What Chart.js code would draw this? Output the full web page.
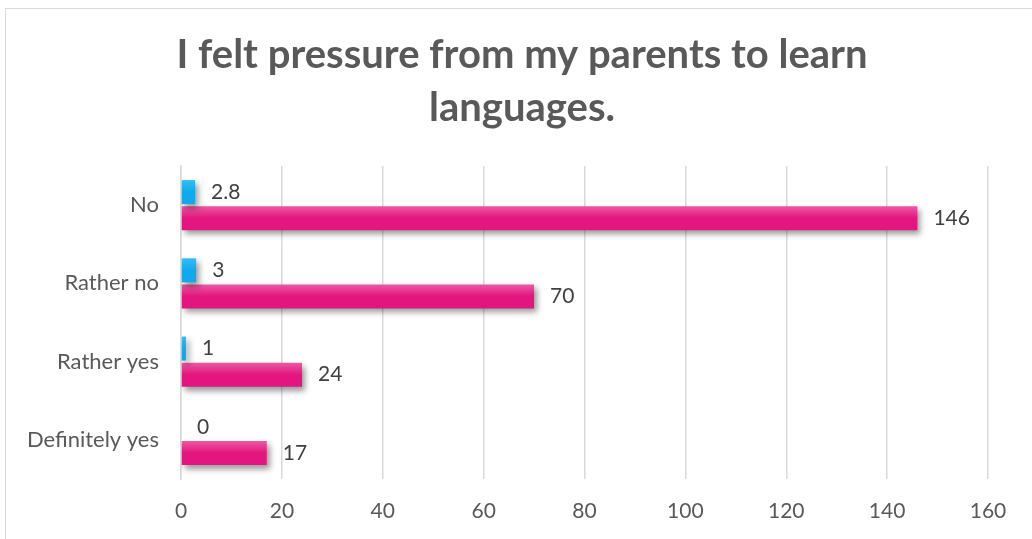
<!DOCTYPE html>
<html>
<head>
<meta charset="utf-8">
<script src="https://cdn.jsdelivr.net/npm/chart.js@4"></script>
<style>
  html, body { margin: 0; padding: 0; background: #fff; }
  #frame { position: absolute; left: 5px; top: 8px; width: 1100px; height: 600px; border: 1px solid #d9d9d9; }
  #wrap { position: absolute; left: 0; top: 0; width: 1032px; height: 539px; }
</style>
</head>
<body>
<div id="frame"></div>
<div id="wrap"><canvas id="chart" width="1032" height="539"></canvas></div>
<script>
// Data
const categories = ['No', 'Rather no', 'Rather yes', 'Definitely yes'];
const blueValues = [2.8, 3, 1, 0];
const pinkValues = [146, 70, 24, 17];
const xTicks = [0, 20, 40, 60, 80, 100, 120, 140, 160];

const FONT = 'Lato, "Open Sans", sans-serif';

// vertical gradient for each bar, once the bar has a position
function barGradient(top, bottom, fallback) {
    return function (c) {
        const el = c.element;
        if (!el || el.y == null || !el.height) return fallback;
        const g = c.chart.ctx.createLinearGradient(0, el.y - el.height / 2, 0, el.y + el.height / 2);
        g.addColorStop(0, top);
        g.addColorStop(0.5, bottom);
        g.addColorStop(1, bottom);
        return g;
    };
}

// soft shadow below the bars
const shadowPlugin = {
    id: 'barShadow',
    afterLayout(chart) {
        // let the long category labels run past the left padding without clipping
        chart.scales.y.left = 0;
    },
    beforeDatasetsDraw(chart) {
        const ctx = chart.ctx;
        ctx.save();
        ctx.shadowColor = 'rgba(0,0,0,0.4)';
        ctx.shadowBlur = 6;
        ctx.shadowOffsetX = 3;
        ctx.shadowOffsetY = 4;
    },
    afterDatasetsDraw(chart) {
        chart.ctx.restore();
    }
};

// value labels to the right of each bar
const valueLabels = {
    id: 'valueLabels',
    afterDraw(chart) {
        const ctx = chart.ctx;
        ctx.save();
        ctx.font = '21px ' + FONT;
        ctx.fillStyle = '#404040';
        ctx.textBaseline = 'middle';
        ctx.textAlign = 'left';
        chart.data.datasets.forEach((ds, i) => {
            chart.getDatasetMeta(i).data.forEach((el, j) => {
                ctx.fillText(String(ds.data[j]), el.x + 16, el.y);
            });
        });
        ctx.restore();
    }
};

const ctx = document.getElementById('chart').getContext('2d');
const chart = new Chart(ctx, {
    type: 'bar',
    data: {
        labels: categories,
        datasets: [{
            data: blueValues,
            backgroundColor: barGradient('#33bdf5', '#0fa9ec', '#1ab0f0'),
            borderWidth: 0,
            categoryPercentage: 0.667,
            barPercentage: 0.92
        }, {
            data: pinkValues,
            backgroundColor: barGradient('#ec5aa2', '#e3157f', '#e31b87'),
            borderWidth: 0,
            categoryPercentage: 0.667,
            barPercentage: 0.92
        }]
    },
    options: {
        indexAxis: 'y',
        responsive: false,
        animation: false,
        layout: { padding: { left: 56, right: 44, top: 0, bottom: 0 } },
        scales: {
            x: {
                min: 0,
                max: 160,
                afterBuildTicks: axis => { axis.ticks = xTicks.map(v => ({ value: v })); },
                afterFit: axis => { axis.height = 60; },
                grid: { color: '#d9d9d9', lineWidth: 1.5, drawTicks: false },
                border: { display: false },
                ticks: { padding: 20, color: '#595959', font: { family: FONT, size: 21 } }
            },
            y: {
                afterFit: axis => { axis.width = 125; },
                grid: { display: false },
                border: { color: '#d9d9d9', width: 1.5 },
                ticks: { padding: 14, color: '#595959', font: { family: FONT, size: 22 } }
            }
        },
        plugins: {
            legend: { display: false },
            tooltip: { enabled: false },
            title: {
                display: true,
                text: ['I felt pressure from my parents to learn', 'languages.'],
                color: '#595959',
                font: { family: FONT, size: 40, weight: 'bold', lineHeight: 1.325 },
                padding: { top: 28.5, bottom: 31.5 }
            }
        }
    },
    plugins: [shadowPlugin, valueLabels]
});
chart.update('none');
</script>
</body>
</html>
